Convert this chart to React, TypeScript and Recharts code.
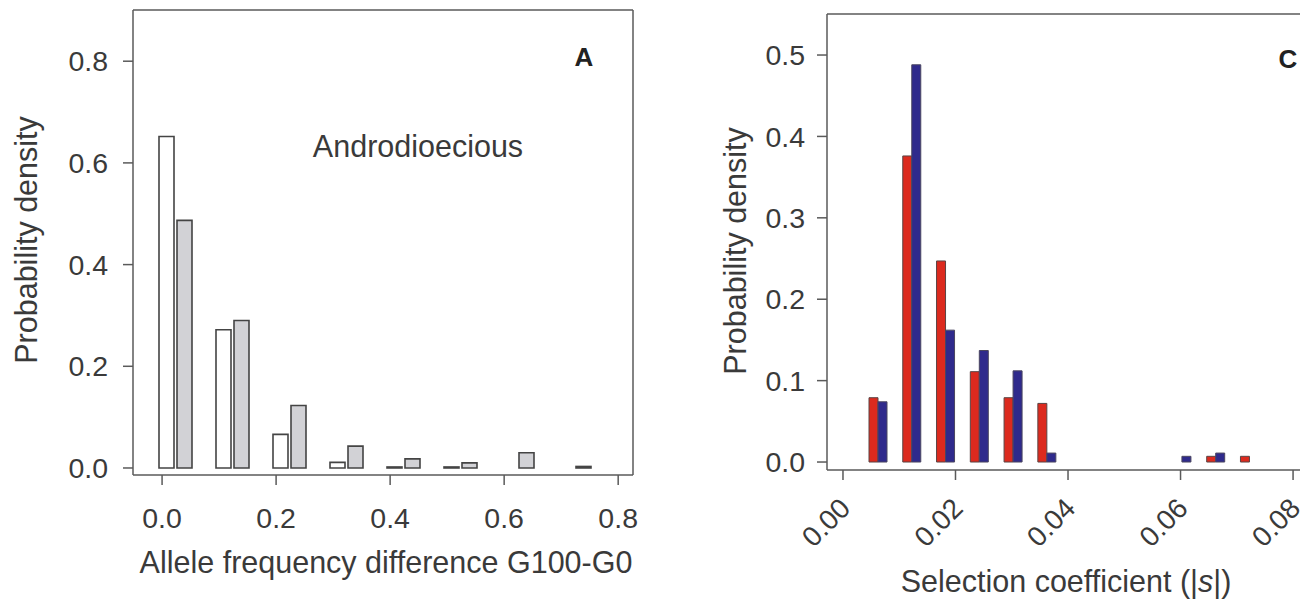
import React from 'react';
import { BarChart, Bar, XAxis, YAxis, ReferenceLine, ScatterChart } from 'recharts';

// panel A: allele frequency difference G100-G0 (androdioecious)
const afBins = ['0.0', '0.1', '0.2', '0.3', '0.4', '0.5', '0.6', '0.7'];
const afOpen = [0.652, 0.272, 0.066, 0.011, 0.002, 0.002, 0, 0];
const afGrey = [0.487, 0.29, 0.123, 0.043, 0.018, 0.01, 0.03, 0.003];
const afXTicks = [0, 0.2, 0.4, 0.6, 0.8];
const afYTicks = [0, 0.2, 0.4, 0.6, 0.8];

// panel C: selection coefficient |s|
const selBins = [
  '0.006', '0.012', '0.018', '0.024', '0.030', '0.036', '0.042',
  '0.048', '0.054', '0.060', '0.066', '0.072', '0.078',
];
const selRed = [0.079, 0.376, 0.247, 0.111, 0.079, 0.072, 0, 0, 0, 0, 0.007, 0.007, 0];
const selBlue = [0.074, 0.488, 0.162, 0.137, 0.112, 0.011, 0, 0, 0, 0.007, 0.011, 0, 0];
const selXTicks = [0, 0.02, 0.04, 0.06, 0.08];
const selYTicks = [0, 0.1, 0.2, 0.3, 0.4, 0.5];

const FONT = "'Liberation Sans', Arial, sans-serif";
const INK = '#3a3a3a';
const FRAME = '#5a5a5a';
const TITLE_SIZE = 30.5;

const afData = afBins.map((bin, i) => ({ bin, open: afOpen[i], grey: afGrey[i] }));
const selData = selBins.map((bin, i) => ({ bin, red: selRed[i], blue: selBlue[i] }));

const AF_X = [-0.051, 0.826];
const AF_Y = [-0.0138, 0.9007];
// right box is cut by the page edge, as in the original crop
const SEL_X = [-0.00284, 0.0823];
const SEL_Y = [-0.0098, 0.5504];

const layer: React.CSSProperties = { position: 'absolute', left: 0, top: 0 };

function SlantTick({ x, y, payload }: any) {
  const px = x + 9;
  const py = y + 30;
  return (
    <text
      x={px}
      y={py}
      transform={`rotate(-45, ${px}, ${py})`}
      textAnchor="end"
      fontSize={28}
      fill={INK}
      fontFamily={FONT}
    >
      {Number(payload.value).toFixed(2)}
    </text>
  );
}

const boxLine = { stroke: FRAME, strokeWidth: 1.5, ifOverflow: 'visible' as const };

// numeric x axis + box, laid over the bar chart with the same plot area
function Frame({ width, height, margin, xDomain, yDomain, xTicks, xHeight, tickProps, closed }: any) {
  return (
    <div style={{ ...layer, pointerEvents: 'none' }}>
      <ScatterChart width={width} height={height} margin={margin}>
        <XAxis
          type="number"
          dataKey="x"
          domain={xDomain}
          allowDataOverflow
          ticks={xTicks}
          interval={0}
          height={xHeight}
          axisLine={false}
          tickSize={10}
          tickLine={{ stroke: FRAME, strokeWidth: 1.5 }}
          {...tickProps}
        />
        <YAxis type="number" dataKey="y" domain={yDomain} allowDataOverflow hide />
        <ReferenceLine y={yDomain[0]} {...boxLine} />
        <ReferenceLine y={yDomain[1]} {...boxLine} />
        <ReferenceLine x={xDomain[0]} {...boxLine} />
        {closed && <ReferenceLine x={xDomain[1]} {...boxLine} />}
      </ScatterChart>
    </div>
  );
}

export default function App() {
  return (
    <div
      style={{
        position: 'absolute',
        left: 0,
        top: 0,
        width: 1300,
        height: 601,
        overflow: 'hidden',
        background: '#fff',
        fontFamily: FONT,
      }}
    >
      {/* Panel A */}
      <div style={{ position: 'absolute', left: 0, top: 0, width: 660, height: 601 }}>
        <div style={layer}>
          <BarChart
            width={660}
            height={601}
            data={afData}
            margin={{ top: 10, right: 27, left: 0, bottom: 126 }}
            barGap={3}
          >
            <XAxis dataKey="bin" hide padding={{ left: 14, right: 30 }} />
            <YAxis
              type="number"
              domain={AF_Y}
              allowDataOverflow
              ticks={afYTicks}
              interval={0}
              tickFormatter={(v: number) => v.toFixed(1)}
              width={133}
              axisLine={false}
              tickSize={10}
              tickMargin={15}
              tickLine={{ stroke: FRAME, strokeWidth: 1.5 }}
              tick={{ fontSize: 28.5, fill: INK, fontFamily: FONT }}
            />
            <Bar
              dataKey="open"
              fill="#ffffff"
              stroke="#444"
              strokeWidth={1.6}
              barSize={15}
              isAnimationActive={false}
            />
            <Bar
              dataKey="grey"
              fill="#d2d2d6"
              stroke="#444"
              strokeWidth={1.6}
              barSize={15}
              isAnimationActive={false}
            />
            <text
              x={26}
              y={240}
              transform="rotate(-90, 26, 240)"
              textAnchor="middle"
              dominantBaseline="central"
              fontSize={TITLE_SIZE}
              fill={INK}
              fontFamily={FONT}
            >
              Probability density
            </text>
            <text x={386} y={573} textAnchor="middle" fontSize={TITLE_SIZE} fill={INK} fontFamily={FONT}>
              Allele frequency difference G100-G0
            </text>
            <text
              x={418}
              y={146}
              textAnchor="middle"
              dominantBaseline="central"
              fontSize={TITLE_SIZE}
              fill={INK}
              fontFamily={FONT}
            >
              Androdioecious
            </text>
            <text
              x={584}
              y={57}
              textAnchor="middle"
              dominantBaseline="central"
              fontSize={26}
              fontWeight="bold"
              fill="#222"
              fontFamily={FONT}
            >
              A
            </text>
          </BarChart>
        </div>
        <Frame
          width={660}
          height={601}
          margin={{ top: 10, right: 27, left: 133, bottom: 0 }}
          xDomain={AF_X}
          yDomain={AF_Y}
          xTicks={afXTicks}
          xHeight={126}
          closed
          tickProps={{
            tickMargin: 23,
            tickFormatter: (v: number) => v.toFixed(1),
            tick: { fontSize: 28.5, fill: INK, fontFamily: FONT },
          }}
        />
      </div>

      {/* Panel C */}
      <div style={{ position: 'absolute', left: 660, top: 0, width: 646, height: 601 }}>
        <div style={layer}>
          <BarChart
            width={646}
            height={601}
            data={selData}
            margin={{ top: 14, right: 0, left: 0, bottom: 131 }}
            barGap={0}
          >
            <XAxis dataKey="bin" hide padding={{ left: 34, right: 6 }} />
            <YAxis
              type="number"
              domain={SEL_Y}
              allowDataOverflow
              ticks={selYTicks}
              interval={0}
              tickFormatter={(v: number) => v.toFixed(1)}
              width={167}
              axisLine={false}
              tickSize={10}
              tickMargin={12}
              tickLine={{ stroke: FRAME, strokeWidth: 1.5 }}
              tick={{ fontSize: 28.5, fill: INK, fontFamily: FONT }}
            />
            <Bar
              dataKey="red"
              fill="#dc2a1e"
              stroke="#5a4444"
              strokeWidth={1}
              barSize={9}
              isAnimationActive={false}
            />
            <Bar
              dataKey="blue"
              fill="#2f2a8c"
              stroke="#4a4660"
              strokeWidth={1}
              barSize={9}
              isAnimationActive={false}
            />
            <text
              x={75}
              y={251}
              transform="rotate(-90, 75, 251)"
              textAnchor="middle"
              dominantBaseline="central"
              fontSize={TITLE_SIZE}
              fill={INK}
              fontFamily={FONT}
            >
              Probability density
            </text>
            <text x={406} y={592} textAnchor="middle" fontSize={TITLE_SIZE} fill={INK} fontFamily={FONT}>
              Selection coefficient (|<tspan fontStyle="italic">s</tspan>|)
            </text>
            <text
              x={628}
              y={59}
              textAnchor="middle"
              dominantBaseline="central"
              fontSize={26}
              fontWeight="bold"
              fill="#222"
              fontFamily={FONT}
            >
              C
            </text>
          </BarChart>
        </div>
        <Frame
          width={646}
          height={601}
          margin={{ top: 14, right: 0, left: 167, bottom: 0 }}
          xDomain={SEL_X}
          yDomain={SEL_Y}
          xTicks={selXTicks}
          xHeight={131}
          tickProps={{ tickMargin: 0, tick: <SlantTick /> }}
        />
      </div>
    </div>
  );
}
